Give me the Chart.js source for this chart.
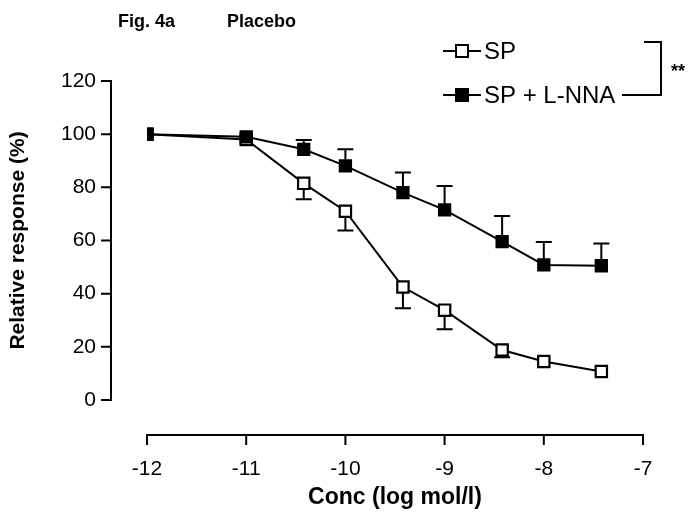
<!DOCTYPE html>
<html>
<head>
<meta charset="utf-8">
<script src="https://cdn.jsdelivr.net/npm/chart.js@4.4.1/dist/chart.umd.min.js"></script>
<style>
  html, body { margin: 0; padding: 0; background: #fff; }
  #wrap { width: 691px; height: 516px; position: relative; }
</style>
</head>
<body>
<div id="wrap"><canvas id="fig4a" width="691" height="516"></canvas></div>
<script>
// concentrations (log mol/l) and mean responses
const concLog = [-12, -11, -10.42, -10, -9.42, -9, -8.42, -8, -7.42];
const spMean = [100, 98, 81.5, 71, 42.5, 33.8, 18.8, 14.5, 10.7];
const spErr = [0, 0, 6, 7.2, 8, 7.2, 2.7, 0, 0];          // drawn downward
const lnnaMean = [100, 99, 94.3, 88.1, 78, 71.5, 59.6, 50.8, 50.5];
const lnnaErr = [0, 0, 3.5, 6.2, 7.6, 9, 9.6, 8.6, 8.4];  // drawn upward
const xTicks = [-12, -11, -10, -9, -8, -7];
const yTicks = [0, 20, 40, 60, 80, 100, 120];
const seriesNames = ['SP', 'SP + L-NNA'];

const FONT = "'Liberation Sans', Arial, Helvetica, sans-serif";

const toPoints = (xs, ys) => xs.map((x, i) => ({ x: x, y: ys[i] }));

// error bars, drawn under the markers
const errorBars = {
    id: 'errorBars',
    beforeDatasetsDraw(chart) {
        const { ctx, scales: { x, y } } = chart;
        const sets = [
            { mean: spMean, err: spErr, dir: -1 },
            { mean: lnnaMean, err: lnnaErr, dir: 1 }
        ];
        ctx.save();
        ctx.strokeStyle = '#000';
        ctx.lineWidth = 2;
        sets.forEach(s => {
            concLog.forEach((c, i) => {
                if (!s.err[i]) return;
                const px = x.getPixelForValue(c);
                const y0 = y.getPixelForValue(s.mean[i]);
                const y1 = y.getPixelForValue(s.mean[i] + s.dir * s.err[i]);
                ctx.beginPath();
                ctx.moveTo(px, y0);
                ctx.lineTo(px, y1);
                ctx.moveTo(px - 8, y1);
                ctx.lineTo(px + 8, y1);
                ctx.stroke();
            });
        });
        ctx.restore();
    }
};

// detached axes (prism style), title, legend and significance bracket
const decorations = {
    id: 'decorations',
    afterDraw(chart) {
        const { ctx, chartArea, scales: { x, y } } = chart;
        ctx.save();
        ctx.strokeStyle = '#000';
        ctx.fillStyle = '#000';
        ctx.lineWidth = 2;

        // y axis
        const ax = chartArea.left - 36;
        ctx.beginPath();
        ctx.moveTo(ax, y.getPixelForValue(yTicks[0]));
        ctx.lineTo(ax, y.getPixelForValue(yTicks[yTicks.length - 1]));
        yTicks.forEach(v => {
            const py = y.getPixelForValue(v);
            ctx.moveTo(ax - 10, py);
            ctx.lineTo(ax + 1, py);
        });
        ctx.stroke();

        // x axis
        const ay = chartArea.bottom + 35;
        ctx.beginPath();
        ctx.moveTo(x.getPixelForValue(xTicks[0]), ay);
        ctx.lineTo(x.getPixelForValue(xTicks[xTicks.length - 1]), ay);
        xTicks.forEach(v => {
            const px = x.getPixelForValue(v);
            ctx.moveTo(px, ay - 1);
            ctx.lineTo(px, ay + 10);
        });
        ctx.stroke();

        // figure title
        ctx.font = 'bold 18px ' + FONT;
        ctx.textBaseline = 'alphabetic';
        ctx.textAlign = 'left';
        ctx.fillText('Fig. 4a', 118, 27);
        ctx.fillText('Placebo', 227, 27);

        // legend
        ctx.font = '24px ' + FONT;
        ctx.textBaseline = 'middle';
        const rows = [{ y: 51, fill: '#fff' }, { y: 95, fill: '#000' }];
        rows.forEach((r, i) => {
            ctx.beginPath();
            ctx.moveTo(443, r.y);
            ctx.lineTo(481, r.y);
            ctx.stroke();
            ctx.fillStyle = r.fill;
            ctx.fillRect(456, r.y - 6, 12, 12);
            ctx.strokeRect(456, r.y - 6, 12, 12);
            ctx.fillStyle = '#000';
            ctx.fillText(seriesNames[i], 484, r.y + 1);
        });

        // bracket with **
        ctx.beginPath();
        ctx.moveTo(644, 42);
        ctx.lineTo(661, 42);
        ctx.lineTo(661, 95);
        ctx.lineTo(622, 95);
        ctx.stroke();
        ctx.font = 'bold 18px ' + FONT;
        ctx.fillText('**', 671, 72);

        ctx.restore();
    }
};

const ctx = document.getElementById('fig4a').getContext('2d');
new Chart(ctx, {
    type: 'scatter',
    data: {
        datasets: [
            {
                label: seriesNames[0],
                data: toPoints(concLog, spMean),
                showLine: true,
                borderColor: '#000',
                borderWidth: 2,
                pointStyle: 'rect',
                pointRadius: 8,
                pointBorderWidth: 2.2,
                pointBackgroundColor: '#fff',
                pointBorderColor: '#000',
                order: 1
            },
            {
                label: seriesNames[1],
                data: toPoints(concLog, lnnaMean),
                showLine: true,
                borderColor: '#000',
                borderWidth: 2,
                pointStyle: 'rect',
                pointRadius: 8,
                pointBorderWidth: 2,
                pointBackgroundColor: '#000',
                pointBorderColor: '#000',
                order: 0
            }
        ]
    },
    options: {
        responsive: false,
        animation: false,
        events: [],
        layout: { padding: { left: 0, top: 81, right: 48, bottom: 0 } },
        plugins: {
            legend: { display: false },
            tooltip: { enabled: false }
        },
        scales: {
            x: {
                type: 'linear',
                min: -12,
                max: -7,
                afterFit: s => {
                    s.height = 116;
                    // tick padding would otherwise widen the side margins
                    s.paddingLeft = 0;
                    s.paddingRight = 0;
                },
                afterBuildTicks: s => { s.ticks = xTicks.map(v => ({ value: v })); },
                grid: { display: false, drawTicks: false },
                border: { display: false },
                ticks: {
                    color: '#000',
                    font: { family: FONT, size: 21 },
                    padding: 57,
                    maxRotation: 0
                },
                title: {
                    display: true,
                    text: 'Conc (log mol/l)',
                    color: '#000',
                    font: { family: FONT, size: 23, weight: 'bold' },
                    padding: { top: 0, bottom: 5 }
                }
            },
            y: {
                type: 'linear',
                min: 0,
                max: 120,
                afterFit: s => { s.width = 147; },
                afterBuildTicks: s => { s.ticks = yTicks.map(v => ({ value: v })); },
                grid: { display: false, drawTicks: false },
                border: { display: false },
                ticks: {
                    color: '#000',
                    font: { family: FONT, size: 21 },
                    padding: 51
                },
                title: {
                    display: true,
                    text: 'Relative response (%)',
                    color: '#000',
                    font: { family: FONT, size: 21, weight: 'bold' },
                    padding: { top: 6, bottom: 0 }
                }
            }
        }
    },
    plugins: [errorBars, decorations]
});
</script>
</body>
</html>
